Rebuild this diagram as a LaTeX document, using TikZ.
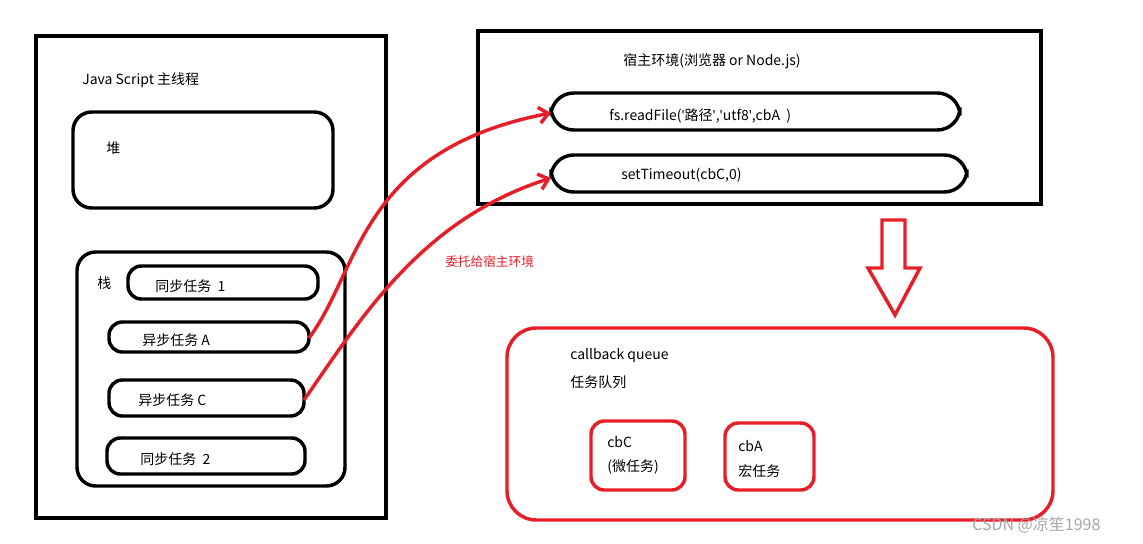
\documentclass[tikz,border=0pt]{standalone}
\usepackage{fontspec}
\usetikzlibrary{arrows.meta}
\setmainfont{Noto Sans CJK SC}
\newfontfamily\lat{Open Sans}
\definecolor{rr}{RGB}{230,30,40}
\begin{document}
\begin{tikzpicture}[x=0.75pt,y=-0.75pt,
 blk/.style={draw=black,line width=2.6pt},
 rbox/.style={draw=black,line width=2.6pt,rounded corners=14pt},
 red/.style={draw=rr,line width=2.6pt},
 tx/.style={anchor=west,font=\fontsize{10.5}{12}\selectfont,inner sep=0pt}]
\useasboundingbox (0,0) rectangle (1143,543);
\draw[blk] (36,36) rectangle (386,518);
\node[tx] (t1) at (82,80) {Java Script 主线程};
\draw[rbox] (73,112) rectangle (333,208);
\node[tx] (h) at (106,148) {堆};
\draw[rbox] (77,252) rectangle (345,486);
\node[tx] (z) at (97,283) {栈};
\draw[rbox,rounded corners=10pt] (128,266) rectangle (318,299);
\node[tx] at (155,286) {同步任务\ \ 1};
\draw[rbox,rounded corners=10pt] (109,322) rectangle (309,352);
\node[tx] at (142,340) {异步任务 A};
\coordinate (aA) at (309,338);
\draw[rbox,rounded corners=10pt] (109,380) rectangle (304,416);
\node[tx] at (138,400) {异步任务 C};
\coordinate (aC) at (304,400);
\draw[rbox,rounded corners=10pt] (107,438) rectangle (305,474);
\node[tx] at (140,459) {同步任务\ \ 2};
\draw[blk] (478,31) rectangle (1041,204);
\node[tx] at (623,61) {宿主环境(浏览器 or Node.js)};
\draw[rbox,rounded corners=17pt] (551,93) rectangle (960,130);
\node[tx] at (609,116) {fs.readFile({\lat\char"27}路径{\lat\char"27},{\lat\char"27}utf8{\lat\char"27},cbA\ \ )};
\coordinate (fA) at (551,113);
\draw[rbox,rounded corners=17pt] (551,155) rectangle (967,192);
\node[tx] at (621,175) {setTimeout(cbC,0)};
\coordinate (fC) at (551,178);
\draw[red,-{Straight Barb[length=7pt,width=12pt]}] (aA) .. controls (360,270) and (360,150) .. (fA);
\draw[red,-{Straight Barb[length=7pt,width=12pt]}] (aC) .. controls (360,320) and (420,220) .. (fC);
\node[tx,text=rr,font=\fontsize{9.5}{11}\selectfont] at (445,262) {委托给宿主环境};
\draw[red] (882,220) -- (905,220) -- (905,268) -- (920,268) -- (895,315) -- (868,268) -- (882,268) -- cycle;
\draw[red,rounded corners=22pt] (507,328) rectangle (1053,520);
\node[tx] at (570,356) {callback queue};
\node[tx] at (570,382) {任务队列};
\draw[red,rounded corners=10pt] (591,421) rectangle (685,490);
\node[tx] at (607,442) {cbC};
\node[tx] at (607,467) {(微任务)};
\draw[red,rounded corners=10pt] (725,423) rectangle (814,490);
\node[tx] at (738,446) {cbA};
\node[tx] at (738,471) {宏任务};
\node[tx,text=gray!70,font=\fontsize{12}{13}\selectfont] at (972,525) {CSDN @凉笙1998};
\end{tikzpicture}
\end{document}
